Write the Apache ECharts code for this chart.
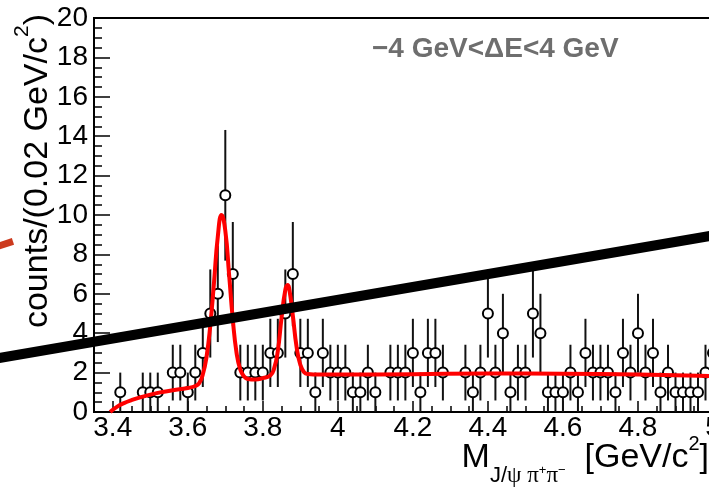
<!DOCTYPE html>
<html>
<head>
<meta charset="utf-8">
<script src="https://cdn.jsdelivr.net/npm/echarts@6/dist/echarts.min.js"></script>
<style>
  html, body { margin: 0; padding: 0; background: #fff; }
  #chart { width: 709px; height: 487px; }
</style>
</head>
<body>
<div id="chart"></div>
<script>
var myChart = echarts.init(document.getElementById('chart'));

// bin centres (0.02 GeV bins) with non-zero content, and their counts
var massBins = [3.42, 3.48, 3.50, 3.52, 3.56, 3.58, 3.60, 3.62, 3.64, 3.66,
    3.68, 3.70, 3.72, 3.74, 3.76, 3.78, 3.80, 3.82, 3.84, 3.86,
    3.88, 3.90, 3.92, 3.94, 3.96, 3.98, 4.00, 4.02, 4.04, 4.06,
    4.08, 4.10, 4.14, 4.16, 4.18, 4.20, 4.22, 4.24, 4.26, 4.28,
    4.34, 4.36, 4.38, 4.40, 4.42, 4.44, 4.46, 4.48, 4.50, 4.52,
    4.54, 4.56, 4.58, 4.60, 4.62, 4.64, 4.66, 4.68, 4.70, 4.72,
    4.74, 4.76, 4.78, 4.80, 4.82, 4.84, 4.86, 4.88, 4.90, 4.92,
    4.94, 4.96, 4.98, 5.00];
var counts = [1, 1, 1, 1, 2, 2, 1, 2, 3, 5,
    6, 11, 7, 2, 2, 2, 2, 3, 3, 5,
    7, 3, 3, 1, 3, 2, 2, 2, 1, 1,
    2, 1, 2, 2, 2, 3, 1, 3, 3, 2,
    2, 1, 2, 5, 2, 4, 1, 2, 2, 5,
    4, 1, 1, 1, 2, 1, 3, 2, 2, 2,
    1, 3, 2, 4, 2, 3, 1, 2, 1, 1,
    1, 1, 2, 3];

// fit curve
var fitX = [3.393, 3.41, 3.43, 3.45, 3.48, 3.52, 3.56, 3.60, 3.62, 3.63,
    3.64, 3.65, 3.66, 3.67, 3.68, 3.69, 3.70, 3.71, 3.72, 3.73,
    3.74, 3.75, 3.76, 3.78, 3.80, 3.82, 3.83, 3.84, 3.85, 3.86,
    3.866, 3.87, 3.88, 3.89, 3.90, 3.91, 3.92, 3.95, 4.00, 4.20,
    4.40, 4.60, 4.80, 5.00, 5.05];
var fitY = [0, 0.25, 0.45, 0.6, 0.78, 0.97, 1.1, 1.22, 1.32, 1.45,
    1.9, 2.8, 4.4, 6.6, 8.9, 10.0, 9.2, 7.0, 4.7, 3.0,
    2.15, 1.8, 1.68, 1.65, 1.72, 1.85, 2.2, 3.1, 4.8, 6.2,
    6.45, 6.3, 4.9, 3.3, 2.4, 2.02, 1.93, 1.9, 1.9, 1.92,
    1.95, 1.94, 1.9, 1.82, 1.8];

// thick black stroke and short red dash drawn over the figure: [x1, y1, x2, y2]
var strokeLine = [[3.086, 2.70, 5.006, 8.98]];
var redDash = [[3.095, 8.42, 3.134, 8.66]];

var xMajorTicks = [3.4, 3.6, 3.8, 4.0, 4.2, 4.4, 4.6, 4.8, 5.0];

var points = [];
var errors = [];
for (var i = 0; i < massBins.length; i++) {
    points.push([massBins[i], counts[i]]);
    errors.push([massBins[i], counts[i], Math.sqrt(counts[i])]);
}
var fitData = [];
for (var j = 0; j < fitX.length; j++) {
    fitData.push([fitX[j], fitY[j]]);
}

var font = 'Liberation Sans, Arial, sans-serif';
var serif = 'Liberation Serif, serif';

function segmentRenderer(color, width) {
    return function (params, api) {
        var p1 = api.coord([api.value(0), api.value(1)]);
        var p2 = api.coord([api.value(2), api.value(3)]);
        return {
            type: 'line',
            shape: {x1: p1[0], y1: p1[1], x2: p2[0], y2: p2[1]},
            style: {stroke: color, lineWidth: width, lineCap: 'butt'}
        };
    };
}

// rich-text pieces are all top aligned; padding-top sets their height
myChart.setOption({
    backgroundColor: '#fff',
    animation: false,
    grid: {
        left: 94,
        top: 18,
        width: 619,
        height: 394,
        show: true,
        borderColor: '#000',
        borderWidth: 2,
        containLabel: false,
        outerBoundsMode: 'none'
    },
    xAxis: [
        {
            type: 'value',
            min: 3.35,
            max: 5.0,
            axisLine: {lineStyle: {color: '#000', width: 2}},
            axisTick: {
                inside: true,
                length: 11,
                customValues: xMajorTicks,
                lineStyle: {color: '#000', width: 1.5}
            },
            axisLabel: {
                customValues: xMajorTicks,
                color: '#000',
                fontFamily: font,
                fontSize: 28,
                margin: 2
            },
            splitLine: {show: false}
        },
        {
            type: 'value',
            min: 3.35,
            max: 5.0,
            interval: 0.05,
            position: 'bottom',
            axisLine: {show: false},
            axisTick: {inside: true, length: 6, lineStyle: {color: '#000', width: 1.5}},
            axisLabel: {show: false},
            splitLine: {show: false}
        }
    ],
    yAxis: {
        type: 'value',
        min: 0,
        max: 20,
        interval: 2,
        axisLine: {show: true, lineStyle: {color: '#000', width: 2}},
        axisTick: {show: true, inside: true, length: 16, lineStyle: {color: '#000', width: 1.5}},
        minorTick: {show: true, splitNumber: 4, length: 8, lineStyle: {color: '#000', width: 1.5}},
        axisLabel: {color: '#000', fontFamily: font, fontSize: 28, margin: 6},
        splitLine: {show: false}
    },
    graphic: [
        {
            type: 'text',
            x: 10,
            y: 14,
            rotation: Math.PI / 2,
            style: {
                text: '{a|counts/(0.02 GeV/c}{s|2}{a|)}',
                textAlign: 'right',
                textVerticalAlign: 'top',
                rich: {
                    a: {fontFamily: font, fontSize: 34, verticalAlign: 'top', padding: [11, 0, 0, 0], fill: '#000'},
                    s: {fontFamily: font, fontSize: 21, verticalAlign: 'top', padding: [2, 0, 0, 0], fill: '#000'}
                }
            }
        },
        {
            type: 'text',
            x: 709,
            y: 430,
            style: {
                text: '{m|M}{sa|J/}{sb|ψ π}{sp|+}{sb|π}{sp|−}{m|  [GeV/c}{su|2}{m|]}',
                textAlign: 'right',
                textVerticalAlign: 'top',
                rich: {
                    m: {fontFamily: font, fontSize: 34, verticalAlign: 'top', padding: [11, 0, 0, 0], fill: '#000'},
                    sa: {fontFamily: font, fontSize: 22, verticalAlign: 'top', padding: [35, 0, 0, 0], fill: '#000'},
                    sb: {fontFamily: serif, fontSize: 23, verticalAlign: 'top', padding: [34, 0, 0, 0], fill: '#000'},
                    sp: {fontFamily: font, fontSize: 13, verticalAlign: 'top', padding: [34, 0, 0, 0], fill: '#000'},
                    su: {fontFamily: font, fontSize: 20, verticalAlign: 'top', padding: [4, 0, 0, 0], fill: '#000'}
                }
            }
        },
        {
            type: 'text',
            x: 372,
            y: 49,
            style: {
                text: '−4 GeV<ΔE<4 GeV',
                fontFamily: font,
                fontWeight: 'bold',
                fontSize: 28,
                fill: '#6e6e6e',
                textAlign: 'left',
                textVerticalAlign: 'middle'
            }
        }
    ],
    series: [
        {
            name: 'errors',
            type: 'custom',
            data: errors,
            z: 2,
            renderItem: function (params, api) {
                var x = api.value(0);
                var y = api.value(1);
                var e = api.value(2);
                var top = api.coord([x, y + e]);
                var bot = api.coord([x, Math.max(0, y - e)]);
                return {
                    type: 'line',
                    shape: {x1: top[0], y1: top[1], x2: bot[0], y2: bot[1]},
                    style: {stroke: '#111', lineWidth: 2}
                };
            }
        },
        {
            name: 'data',
            type: 'scatter',
            data: points,
            symbol: 'circle',
            symbolSize: 10,
            z: 3,
            itemStyle: {color: '#fff', borderColor: '#000', borderWidth: 2, opacity: 1}
        },
        {
            name: 'fit',
            type: 'line',
            data: fitData,
            smooth: true,
            showSymbol: false,
            z: 4,
            lineStyle: {color: '#ff0000', width: 4}
        },
        {
            name: 'stroke',
            type: 'custom',
            data: strokeLine,
            z: 10,
            clip: false,
            renderItem: segmentRenderer('#000', 10)
        },
        {
            name: 'dash',
            type: 'custom',
            data: redDash,
            z: 10,
            clip: false,
            renderItem: segmentRenderer('#cc3a1e', 7)
        }
    ]
});
</script>
</body>
</html>
